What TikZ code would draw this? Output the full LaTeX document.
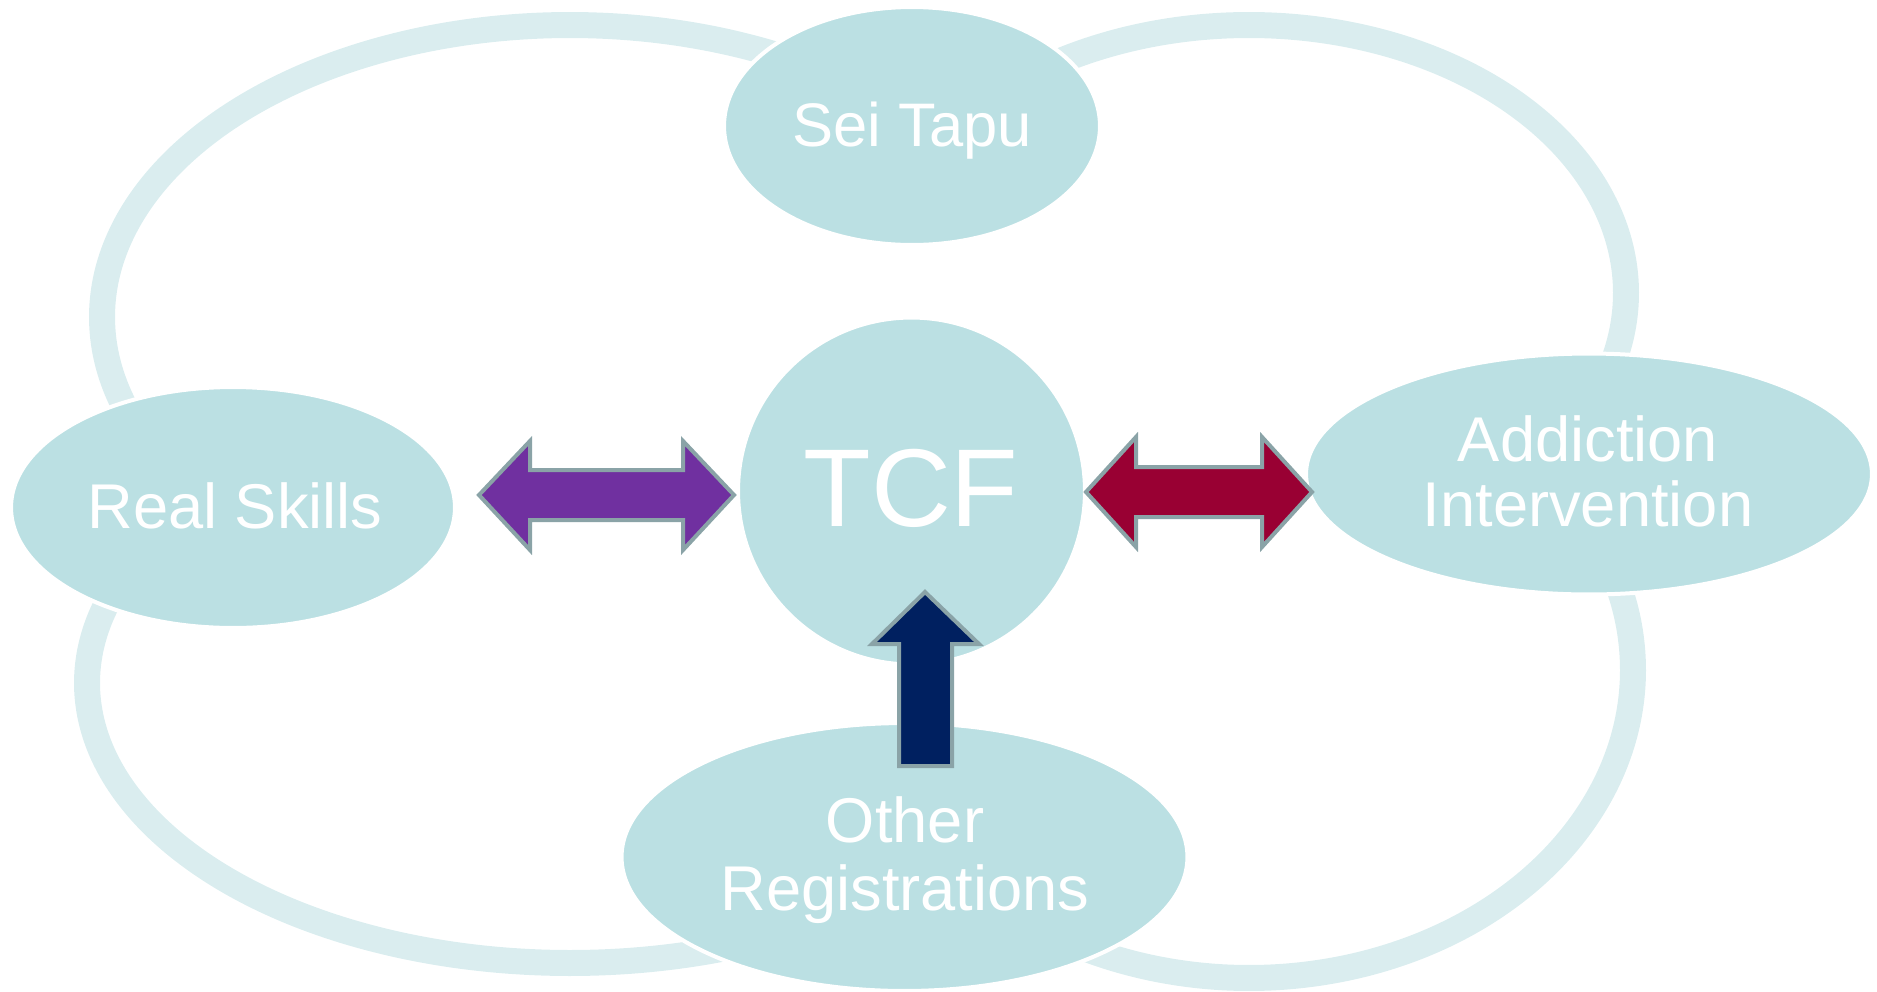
\documentclass[tikz,border=0pt]{standalone}
\usepackage{fontspec}
\setmainfont{Liberation Sans}
\usetikzlibrary{shapes.geometric}
\definecolor{nodefill}{HTML}{BBE0E3}
\definecolor{ring}{HTML}{DAEDEF}
\definecolor{arrowline}{HTML}{8AA3A7}
\definecolor{purplearrow}{HTML}{7030A0}
\definecolor{redarrow}{HTML}{990033}
\definecolor{bluearrow}{HTML}{002060}
\begin{document}
\begin{tikzpicture}[x=0.02cm, y=-0.02cm,
  ringarc/.style={draw=ring, line width=0.52cm},
  bubble/.style={ellipse, fill=nodefill, draw=white, line width=0.08cm, inner sep=0pt},
  lbl/.style={text=white, font=\fontsize{36}{37}\selectfont, anchor=base, align=center, inner sep=0pt},
  blockarrow/.style={draw=arrowline, line width=0.08cm, line join=miter}]
\useasboundingbox (0,0) rectangle (1877,991);

% the four loops joining the outer bubbles
\draw[ringarc] plot[domain=158:298, samples=150] ({570+468*cos(\x)}, {317+292*sin(\x)});
\draw[ringarc] plot[domain=237:380, samples=150] ({1249+377*cos(\x)}, {293+268*sin(\x)});
\draw[ringarc] plot[domain=70:200, samples=150] ({570+483*cos(\x)}, {683+280*sin(\x)});
\draw[ringarc] plot[domain=-20:116, samples=150] ({1249+384*cos(\x)}, {670+308*sin(\x)});

% bubbles
\node[bubble, minimum width=7.52cm, minimum height=4.76cm] (sei) at (912,126) {};
\node[bubble, circle, minimum size=6.94cm] (tcf) at (911.5,491) {};
\node[bubble, minimum width=8.88cm, minimum height=4.82cm] (rs) at (233,507.5) {};
\node[bubble, minimum width=11.32cm, minimum height=4.82cm] (ai) at (1589,474) {};
\node[bubble, minimum width=11.32cm, minimum height=5.36cm] (or) at (904.5,857) {};

% labels (base anchor of a two-line label sits on its last line)
\node[lbl, font=\fontsize{35}{37}\selectfont] (seit) at (912,146) {Sei Tapu};
\node[lbl, font=\fontsize{63}{70}\selectfont] (tcft) at (911,526.5) {TCF};
\node[lbl] (rst) at (235,528) {Real Skills};
\node[lbl] (ait) at (1588,526) {Addiction\\Intervention};
\node[lbl, font=\fontsize{36}{38.5}\selectfont] (ort) at (905,910) {Other\\Registrations};

% block arrows
\draw[blockarrow, fill=purplearrow] (479,495) -- (530,441) -- (530,470) -- (683,470) -- (683,441) -- (734,495) -- (683,550) -- (683,520) -- (530,520) -- (530,550) -- cycle;
\draw[blockarrow, fill=redarrow] (1086,492) -- (1136,437) -- (1136,467) -- (1262,467) -- (1262,437) -- (1312,492) -- (1262,547) -- (1262,517) -- (1136,517) -- (1136,547) -- cycle;
\draw[blockarrow, fill=bluearrow] (925,592) -- (979,644) -- (952,644) -- (952,766) -- (899,766) -- (899,644) -- (872,644) -- cycle;
\end{tikzpicture}
\end{document}
